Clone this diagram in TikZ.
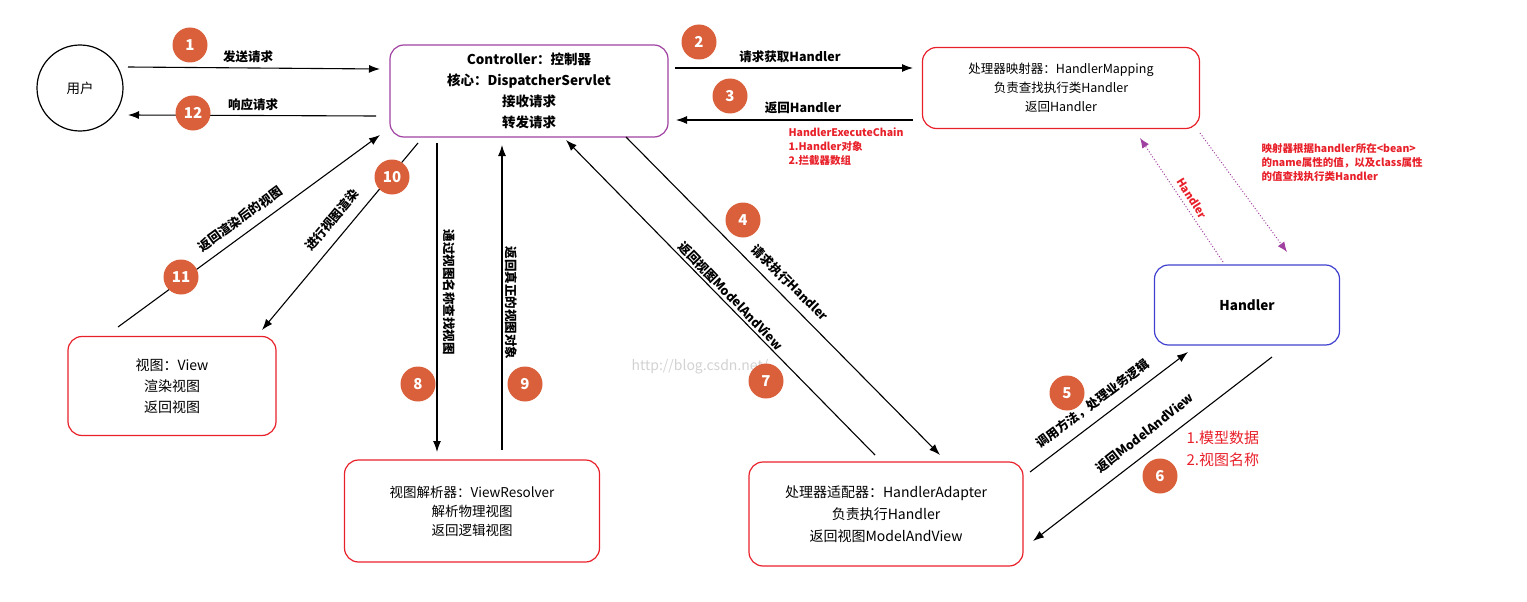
\documentclass[tikz,border=0pt]{standalone}
\usepackage{fontspec}
\setmainfont{Noto Sans CJK SC}
\usetikzlibrary{arrows.meta}
\definecolor{num}{HTML}{D9603B}
\definecolor{redb}{HTML}{E8202A}
\definecolor{purp}{HTML}{A040A0}
\definecolor{blu}{HTML}{4040D0}
\begin{document}
\begin{tikzpicture}[x=1pt,y=-1pt,
 box/.style={draw=redb,line width=1.2pt,rounded corners=14pt,align=center,font=\fontsize{13.5}{19}\selectfont,inner sep=0pt},
 arr/.style={-{Latex[length=11pt,width=8pt]},line width=1.1pt},
 dot/.style={-{Latex[length=10pt,width=8pt]},purp,dotted,line width=1pt},
 lab/.style={font=\bfseries\fontsize{12.5}{14}\selectfont},
 num/.style={circle,fill=num,text=white,minimum size=35pt,inner sep=0pt,font=\bfseries\fontsize{15}{15}\selectfont},
 rtxt/.style={text=redb,align=left,anchor=north west,font=\bfseries\fontsize{10.5}{19}\selectfont}]
\useasboundingbox (0,0) rectangle (1527,602);
\node[draw,circle,line width=1.2pt,minimum size=86pt,font=\fontsize{13.5}{16}\selectfont] (user) at (80,88) {用户};
\node[box,draw=purp,minimum width=278pt,minimum height=92pt,font=\bfseries\fontsize{13.5}{21}\selectfont] (ctl) at (529,91) {Controller：控制器\\核心：DispatcherServlet\\接收请求\\转发请求};
\node[box,minimum width=277pt,minimum height=81pt,font=\fontsize{12.5}{19}\selectfont] (map) at (1061,88) {处理器映射器：HandlerMapping\\负责查找执行类Handler\\返回Handler};
\node[box,draw=blu,minimum width=185pt,minimum height=80pt,font=\bfseries\fontsize{13.5}{16}\selectfont] (hd) at (1247,305) {Handler};
\node[box,minimum width=208pt,minimum height=99pt,font=\fontsize{14}{21}\selectfont] (view) at (172,386) {视图：View\\渲染视图\\返回视图};
\node[box,minimum width=255pt,minimum height=102pt] (vr) at (472,511) {视图解析器：ViewResolver\\解析物理视图\\返回逻辑视图};
\node[box,minimum width=274pt,minimum height=104pt,font=\fontsize{14}{22}\selectfont] (ha) at (886,514) {处理器适配器：HandlerAdapter\\负责执行Handler\\返回视图ModelAndView};
\node[text=gray!35,font=\fontsize{14}{14}\selectfont] (wm) at (700,367) {http://blog.csdn.net/};
% coordinates
\coordinate (a1) at (128,67); \coordinate (b1) at (380,69);
\coordinate (a12) at (376,116); \coordinate (b12) at (128,115);
\coordinate (a2) at (675,68); \coordinate (b2) at (913,68);
\coordinate (a3) at (913,120); \coordinate (b3) at (676,120);
\coordinate (a4) at (626,137); \coordinate (b4) at (940,455);
\coordinate (a7) at (875,455); \coordinate (b7) at (566,140);
\coordinate (a8) at (437,143); \coordinate (b8) at (437,452);
\coordinate (a9) at (502,450); \coordinate (b9) at (502,145);
\coordinate (a10) at (418,143); \coordinate (b10) at (262,330);
\coordinate (a11) at (118,327); \coordinate (b11) at (380,135);
\coordinate (a5) at (1030,472); \coordinate (b5) at (1188,352);
\coordinate (a6) at (1272,357); \coordinate (b6) at (1033,541);
\coordinate (d1) at (1223,262); \coordinate (e1) at (1140,138);
\coordinate (d2) at (1200,133); \coordinate (e2) at (1287,252);
\foreach \i in {1,12,2,3,4,7,8,9,10,11,5,6} \draw[arr] (a\i) -- (b\i);
\draw[dot] (d1) -- (e1);
\draw[dot] (d2) -- (e2);
% labels
\node[lab] (l1) at (248,57) {发送请求};
\node[lab] (l12) at (253,105) {响应请求};
\node[lab] (l2) at (790,57) {请求获取Handler};
\node[lab] (l3) at (803,108) {返回Handler};
\node[lab,rotate=-45] (l4) at (790,283) {请求执行Handler};
\node[lab,rotate=-46] (l7) at (731,296) {返回视图ModelAndView};
\node[lab,rotate=-90] (l8) at (449,292) {通过视图名称查找视图};
\node[lab,rotate=-90] (l9) at (511,303) {返回真正的视图对象};
\node[lab,rotate=50] (l10) at (332,220) {进行视图渲染};
\node[lab,rotate=36] (l11) at (240,219) {返回渲染后的视图};
\node[lab,rotate=37] (l5) at (1093,404) {调用方法，处理业务逻辑};
\node[lab,rotate=38] (l6) at (1145,433) {返回ModelAndView};
\node[lab,text=redb,rotate=-58,font=\bfseries\fontsize{11}{12}\selectfont] (lh) at (1192,198) {Handler};
\node[rtxt] (r1) at (785,124) {HandlerExecuteChain\\[-5pt]1.Handler对象\\[-5pt]2.拦截器数组};
\node[rtxt] (r2) at (1258,140) {映射器根据handler所在<bean>\\[-5pt]的name属性的值，以及class属性\\[-5pt]的值查找执行类Handler};
\node[rtxt,font=\fontsize{15}{22}\selectfont] (r3) at (1183,427) {1.模型数据\\2.视图名称};
% numbers
\node[num] (n1) at (190,45) {1};
\node[num] (n12) at (193,113) {12};
\node[num] (n2) at (699,42) {2};
\node[num] (n3) at (730,96) {3};
\node[num] (n4) at (743,220) {4};
\node[num] (n7) at (766,381) {7};
\node[num] (n8) at (418,384) {8};
\node[num] (n9) at (525,384) {9};
\node[num] (n10) at (392,177) {10};
\node[num] (n11) at (181,277) {11};
\node[num] (n5) at (1067,393) {5};
\node[num] (n6) at (1160,476) {6};
\end{tikzpicture}
\end{document}
